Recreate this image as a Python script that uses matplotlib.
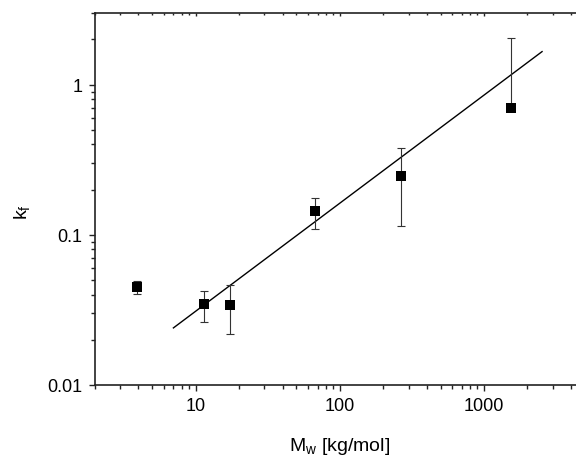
import matplotlib
matplotlib.use("Agg")
import matplotlib.pyplot as plt
import numpy as np
from matplotlib.ticker import LogLocator, NullFormatter, FixedLocator, FixedFormatter

plt.rcParams['font.family'] = ['Liberation Sans', 'DejaVu Sans']
plt.rcParams['mathtext.fontset'] = 'custom'
plt.rcParams['mathtext.rm'] = 'Liberation Sans'
plt.rcParams['mathtext.it'] = 'Liberation Sans:italic'

# data
mw = [3.9, 11.5, 17.2, 67.0, 264.0, 1540.0]
kf = [0.045, 0.0344, 0.034, 0.143, 0.247, 0.696]
kf_hi = [0.0493, 0.0423, 0.0464, 0.176, 0.381, 2.06]
kf_lo = [0.0401, 0.0262, 0.0217, 0.109, 0.114, 0.68]

# power-law fit line end points
fit_x = [7.0, 2530.0]
fit_y = [0.024, 1.66]

x_ticks = [10, 100, 1000]
x_labels = ["10", "100", "1000"]
y_ticks = [0.01, 0.1, 1]
y_labels = ["0.01", "0.1", "1"]

W, H = 576, 456
fig = plt.figure(figsize=(W / 100, H / 100), dpi=100)

# axes box in pixels (right edge is cut off by the figure)
left, right, top, bottom = 95, 584.7, 14, 386
ax = fig.add_axes([left / W, 1 - bottom / H, (right - left) / W, (bottom - top) / H])

ax.set_xscale('log')
ax.set_yscale('log')
ax.set_xlim(2, 5000)
ax.set_ylim(0.01, 3)

err = [np.array(kf) - np.array(kf_lo), np.array(kf_hi) - np.array(kf)]
ax.errorbar(mw, kf, yerr=err, fmt='none', ecolor='#333333',
            elinewidth=0.8, capsize=3, capthick=0.8, zorder=3)
ax.plot(mw, kf, 's', color='black', ms=6.5, mew=0, zorder=4)
ax.plot(fit_x, fit_y, color='black', lw=1.0, zorder=2)

ax.xaxis.set_major_locator(FixedLocator(x_ticks))
ax.xaxis.set_major_formatter(FixedFormatter(x_labels))
ax.xaxis.set_minor_locator(LogLocator(base=10, subs=np.arange(2, 10), numticks=20))
ax.xaxis.set_minor_formatter(NullFormatter())
ax.yaxis.set_major_locator(FixedLocator(y_ticks))
ax.yaxis.set_major_formatter(FixedFormatter(y_labels))
ax.yaxis.set_minor_locator(LogLocator(base=10, subs=np.arange(2, 10), numticks=20))
ax.yaxis.set_minor_formatter(NullFormatter())

ax.tick_params(which='major', direction='out', length=4.5, width=1.0,
               labelsize=13, pad=4.5, color='#222222')
ax.tick_params(which='minor', direction='out', length=3, width=1.0, color='#222222')
for s in ax.spines.values():
    s.set_linewidth(1.2)
    s.set_color('#222222')
ax.spines['right'].set_visible(False)

# top axis with small inward ticks
top_ax = ax.twiny()
top_ax.set_xscale('log')
top_ax.set_xlim(ax.get_xlim())
top_ax.xaxis.set_major_locator(FixedLocator(x_ticks))
top_ax.xaxis.set_minor_locator(LogLocator(base=10, subs=np.arange(2, 10), numticks=20))
top_ax.xaxis.set_major_formatter(NullFormatter())
top_ax.xaxis.set_minor_formatter(NullFormatter())
top_ax.tick_params(which='major', direction='in', length=2.5, width=1.0, color='#222222')
top_ax.tick_params(which='minor', direction='in', length=1.5, width=1.0, color='#222222')
for s in top_ax.spines.values():
    s.set_visible(False)

fig.text(22 / W, 1 - 212 / H, r'$\mathrm{k_f}$', rotation=90, ha='center', va='center',
         fontsize=14)
fig.text(340 / W, 1 - 451 / H, r'$\mathrm{M_w}$ [kg/mol]', ha='center', va='baseline',
         fontsize=14)

fig.savefig('out.png', dpi=100)
